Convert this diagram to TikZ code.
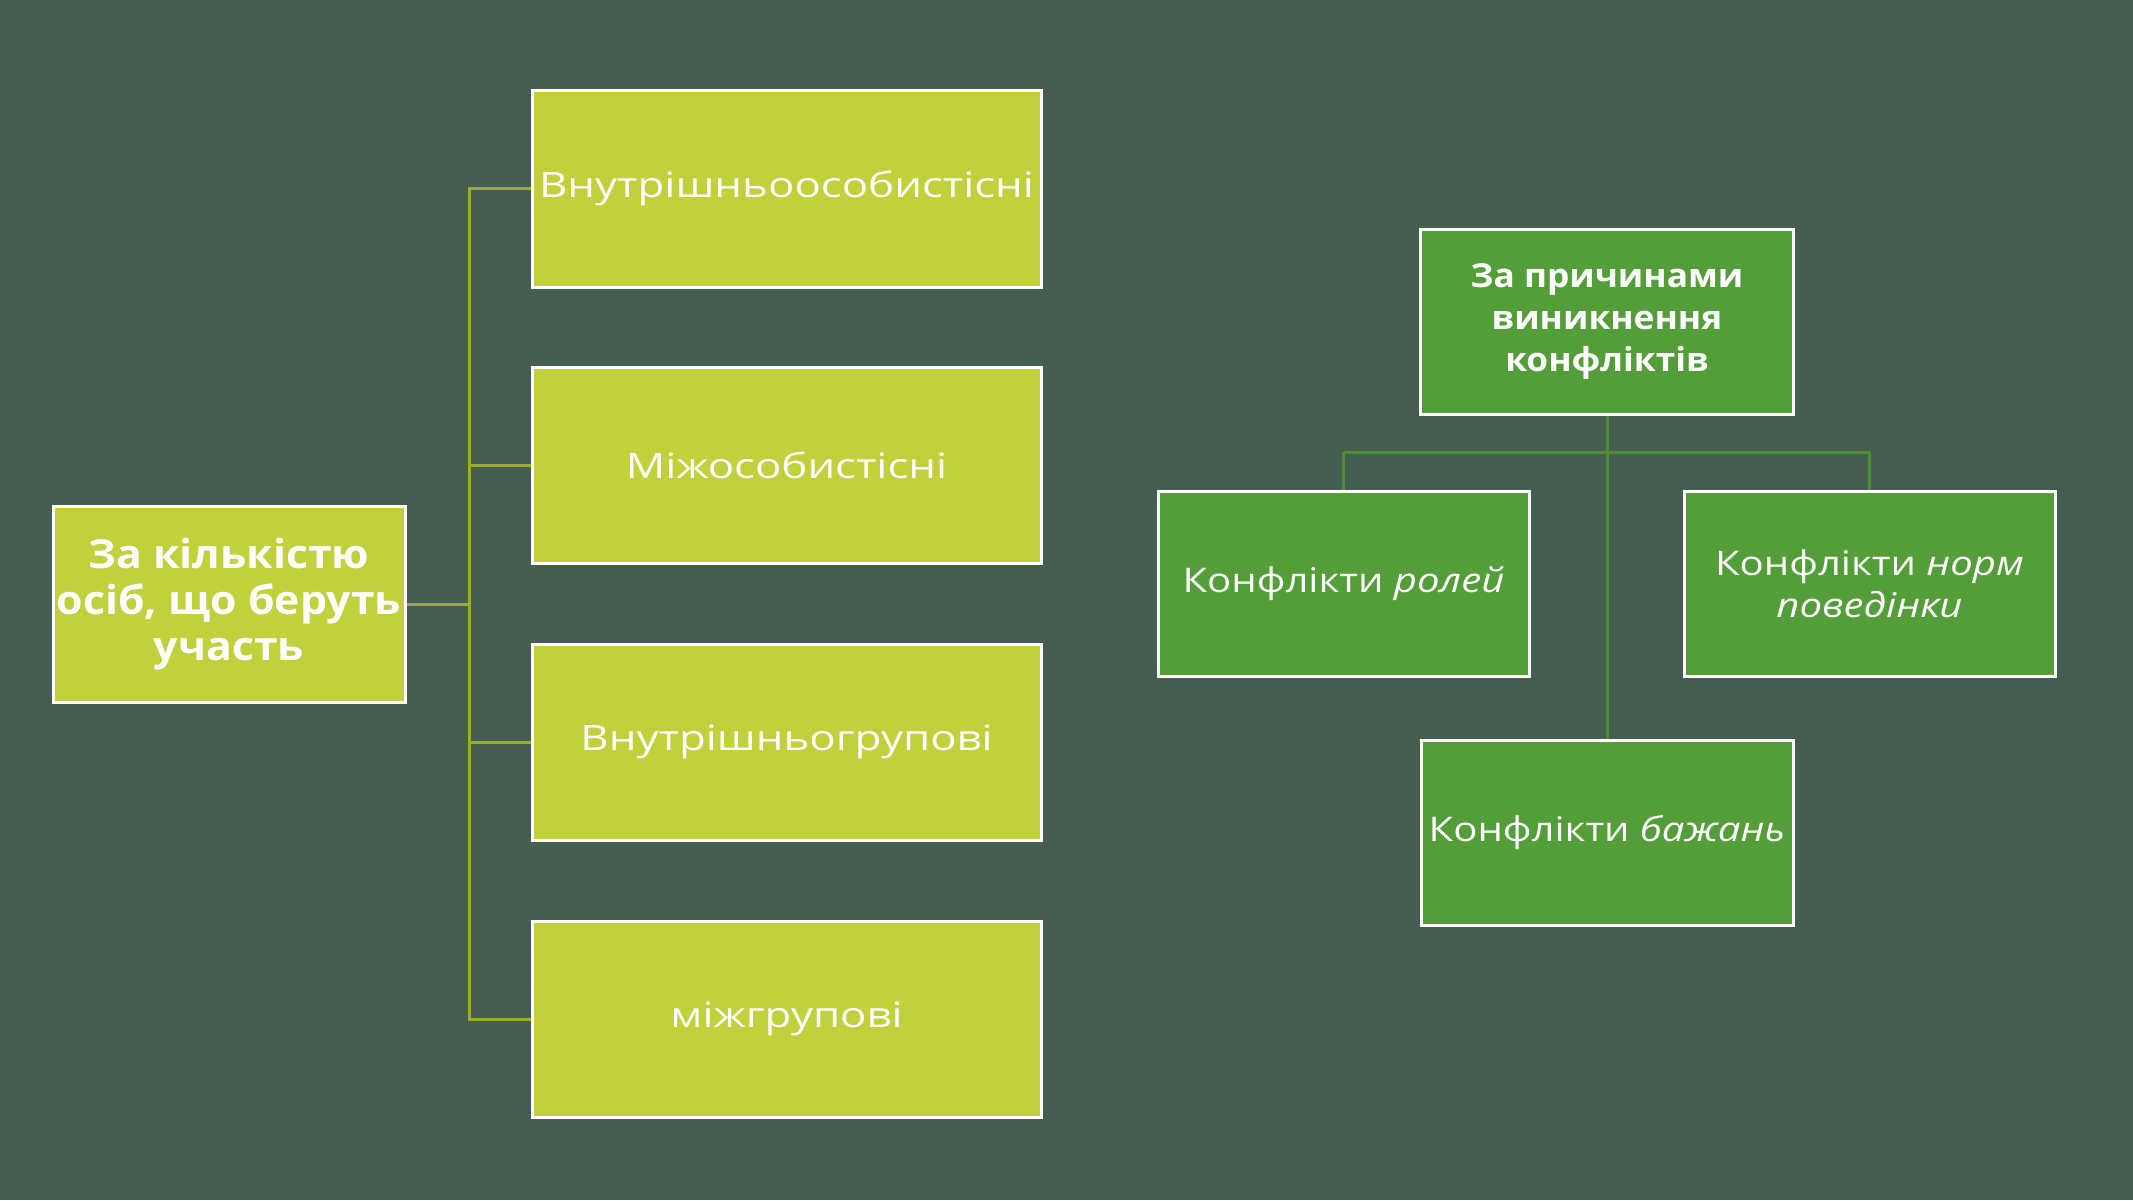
\documentclass[tikz,border=0pt]{standalone}
\usepackage{fontspec}
\setmainfont{Open Sans}
\newfontfamily\itemfont[FakeStretch=1.25]{Open Sans}
\newfontfamily\ritemfont[FakeStretch=1.18]{Open Sans}
\newfontfamily\titlefont[FakeStretch=1.07]{Open Sans}
\definecolor{bgc}{HTML}{455E50}
\definecolor{lime}{HTML}{C1D03B}
\definecolor{leaf}{HTML}{549E39}
\definecolor{olive}{HTML}{9CAC2E}
\definecolor{gline}{HTML}{4E8E32}
\begin{document}
\begin{tikzpicture}[x=1pt,y=-1pt,
  limebox/.style={draw=white, line width=3pt, fill=lime, text=white, align=center, inner sep=0pt},
  leafbox/.style={draw=white, line width=3pt, fill=leaf, text=white, align=center, inner sep=0pt},
  itemtxt/.style={font=\itemfont\fontsize{35}{42}\selectfont},
  ritemtxt/.style={font=\ritemfont\fontsize{34}{42}\selectfont},
  boldtxt/.style={font=\titlefont\bfseries\fontsize{40}{46}\selectfont},
  rboldtxt/.style={font=\titlefont\bfseries\fontsize{33}{42}\selectfont},
  oline/.style={draw=olive, line width=3pt},
  gl/.style={draw=gline, line width=3pt}]
\fill[bgc] (0,0) rectangle (2133,1200);
\useasboundingbox (0,0) rectangle (2133,1200);
% left group
\node[limebox, boldtxt, minimum width=352pt, minimum height=196pt] (L) at (229,604) {За кількістю\\осіб, що беруть\\участь};
\node[limebox, itemtxt, minimum width=509pt, minimum height=197pt] (A1) at (786.5,188.5) {Внутрішньоособистісні};
\node[limebox, itemtxt, minimum width=509pt, minimum height=196pt] (A2) at (786.5,465) {Міжособистісні};
\node[limebox, itemtxt, minimum width=509pt, minimum height=196pt] (A3) at (786.5,742) {Внутрішньогрупові};
\node[limebox, itemtxt, minimum width=509pt, minimum height=196pt] (A4) at (786.5,1019) {міжгрупові};
\coordinate (bus) at (469,604);
\draw[oline] (L.east) -- (bus);
\draw[oline] (A1.west) -- (A1.west -| bus) -- (A4.west -| bus) -- (A4.west);
\draw[oline] (A2.west) -- (A2.west -| bus);
\draw[oline] (A3.west) -- (A3.west -| bus);
% right group
\coordinate (hy) at (1607,452);
\draw[gl] (1343.5,452) -- (1869.5,452);
\node[leafbox, rboldtxt, minimum width=373pt, minimum height=185pt] (T) at (1607,322) {За причинами\\виникнення\\конфліктів};
\node[leafbox, ritemtxt, minimum width=371pt, minimum height=185pt] (R1) at (1343.5,583.5) {Конфлікти \textit{ролей}};
\node[leafbox, ritemtxt, minimum width=371pt, minimum height=185pt] (R2) at (1869.5,583.5) {Конфлікти \textit{норм}\\\textit{поведінки}};
\node[leafbox, ritemtxt, minimum width=372pt, minimum height=185pt] (R3) at (1607,832.5) {Конфлікти \textit{бажань}};
\draw[gl] (T.south) -- (R3.north);
\draw[gl] (R1.north) -- (R1.north |- hy);
\draw[gl] (R2.north) -- (R2.north |- hy);
\end{tikzpicture}
\end{document}
